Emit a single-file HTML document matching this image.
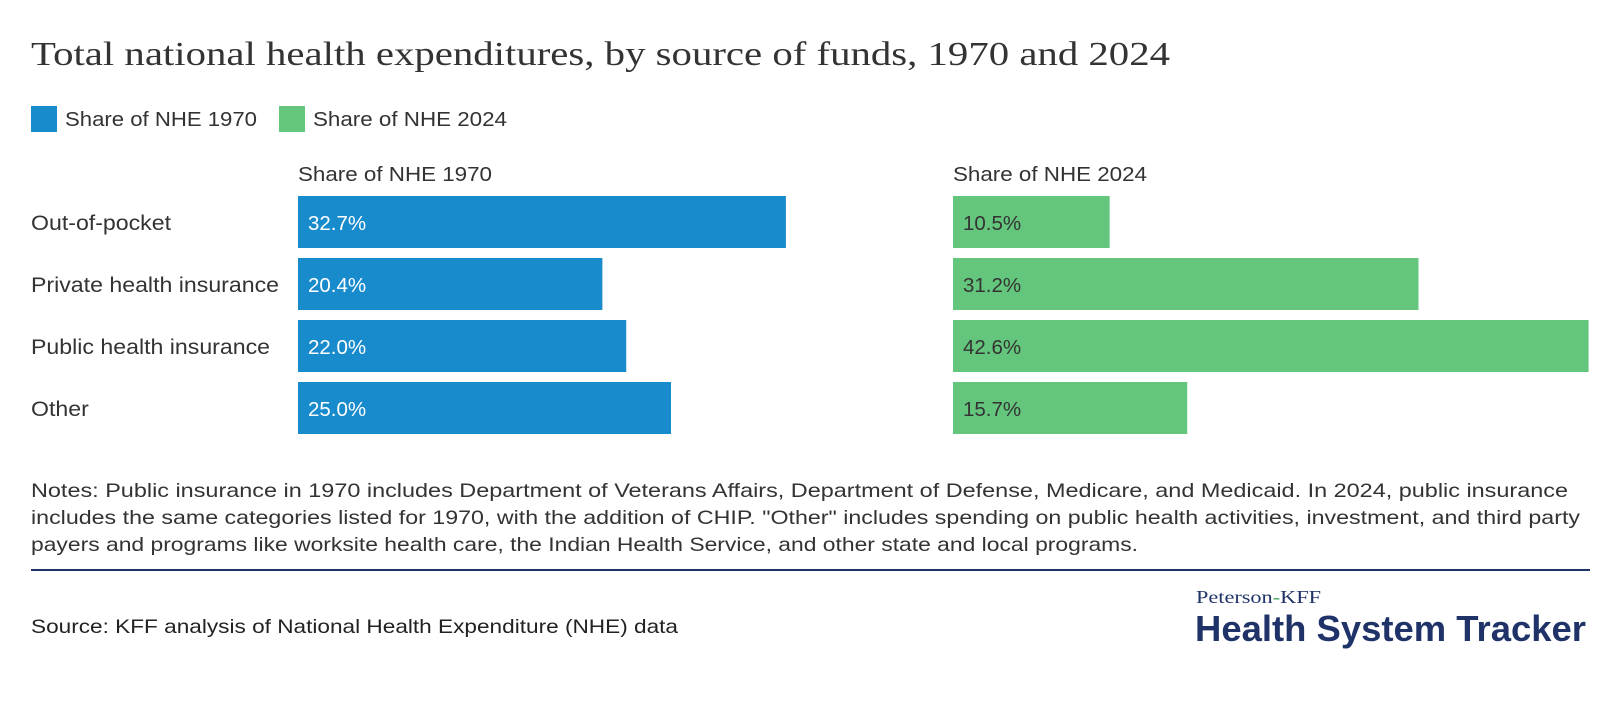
<!DOCTYPE html>
<html><head><meta charset="utf-8"><style>
html,body{margin:0;padding:0;background:#fff;}
svg{display:block;font-family:"Liberation Sans",sans-serif;}
</style></head><body>
<svg id="chart" width="1620" height="710" viewBox="0 0 1620 710">
<text x="31" y="65" font-family="Liberation Serif,serif" font-size="34" fill="#333" textLength="1139" lengthAdjust="spacingAndGlyphs">Total national health expenditures, by source of funds, 1970 and 2024</text>
<g>
<rect x="31" y="106" width="26" height="26" fill="#188bcc"/>
<text x="65" y="126" font-size="20" fill="#333" textLength="192" lengthAdjust="spacingAndGlyphs">Share of NHE 1970</text>
<rect x="279" y="106" width="26" height="26" fill="#64c67c"/>
<text x="313" y="126" font-size="20" fill="#333" textLength="194" lengthAdjust="spacingAndGlyphs">Share of NHE 2024</text>
</g>
<text x="298" y="181" font-size="20" fill="#333" textLength="194" lengthAdjust="spacingAndGlyphs">Share of NHE 1970</text>
<text x="953" y="181" font-size="20" fill="#333" textLength="194" lengthAdjust="spacingAndGlyphs">Share of NHE 2024</text>
<g id="bars"></g>
<g font-size="19.5" fill="#333">
<text x="31" y="497" textLength="1537" lengthAdjust="spacingAndGlyphs">Notes: Public insurance in 1970 includes Department of Veterans Affairs, Department of Defense, Medicare, and Medicaid. In 2024, public insurance</text>
<text x="31" y="524" textLength="1549" lengthAdjust="spacingAndGlyphs">includes the same categories listed for 1970, with the addition of CHIP. "Other" includes spending on public health activities, investment, and third party</text>
<text x="31" y="551" textLength="1107" lengthAdjust="spacingAndGlyphs">payers and programs like worksite health care, the Indian Health Service, and other state and local programs.</text>
</g>
<rect x="31" y="569" width="1559" height="2" fill="#1f3368"/>
<text x="31" y="633" font-size="19.5" fill="#222" textLength="647" lengthAdjust="spacingAndGlyphs">Source: KFF analysis of National Health Expenditure (NHE) data</text>
<text x="1196" y="603" font-family="Liberation Serif,serif" font-size="18" fill="#1f3368" textLength="125" lengthAdjust="spacingAndGlyphs">Peterson<tspan fill="#3aa655">-</tspan>KFF</text>
<text x="1195" y="641" font-size="36" font-weight="bold" fill="#1f3368" textLength="391" lengthAdjust="spacingAndGlyphs">Health System Tracker</text>
</svg>
<script>
const categories = ["Out-of-pocket", "Private health insurance", "Public health insurance", "Other"];
const values1970 = [32.7, 20.4, 22.0, 25.0];
const values2024 = [10.5, 31.2, 42.6, 15.7];
const NS = "http://www.w3.org/2000/svg";
const pxPerPct = 14.92;
function xLen(v){ return v * pxPerPct; }
function yTop(i){ return 196 + i * 62; }
const barH = 52;
const g = document.getElementById("bars");
function mk(tag, attrs){ const e = document.createElementNS(NS, tag); for (const k in attrs) e.setAttribute(k, attrs[k]); return e; }
categories.forEach((c, i) => {
  const y = yTop(i);
  const lab = mk("text", {x: 31, y: y + barH/2 + 8, "font-size": 21.5, fill: "#333", lengthAdjust: "spacingAndGlyphs"});
  
  
  lab.textContent = c;
  g.appendChild(lab);
  lab.setAttribute('textLength', (lab.getComputedTextLength() * 1.075).toFixed(1));
  [[values1970, 298, "#188bcc", "#fff", "bar-1970"], [values2024, 953, "#64c67c", "#333", "bar-2024"]].forEach(([vals, x0, col, tc, nm]) => {
    const r = mk("rect", {x: x0, y: y, width: xLen(vals[i]), height: barH, fill: col});
    
    
    g.appendChild(r);
    const t = mk("text", {x: x0 + 10, y: y + barH/2 + 8, "font-size": 20.5, fill: tc});
    
    
    t.textContent = vals[i].toFixed(1) + "%";
    g.appendChild(t);
  });
});
</script>
</body></html>
